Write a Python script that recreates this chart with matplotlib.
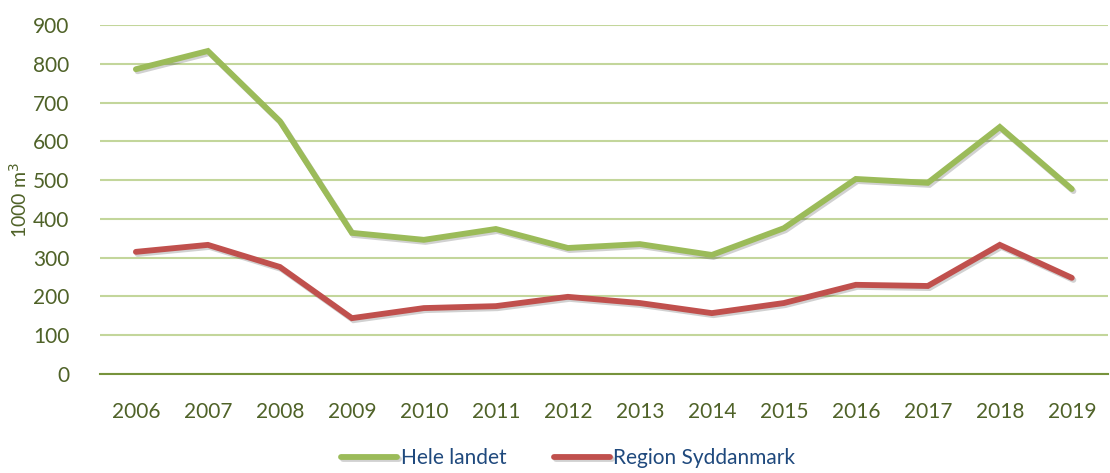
import matplotlib.pyplot as plt
import matplotlib.patheffects as pe

years = ['2006', '2007', '2008', '2009', '2010', '2011', '2012',
         '2013', '2014', '2015', '2016', '2017', '2018', '2019']
hele_landet = [786, 833, 652, 364, 346, 374, 325, 335, 307, 376, 503, 493, 637, 477]
syddanmark = [315, 333, 276, 144, 170, 175, 199, 183, 157, 183, 230, 227, 333, 248]

plt.rcParams['font.family'] = ['Lato', 'DejaVu Sans']
tick_col = '#4f6228'

fig = plt.figure(figsize=(11.1, 4.73), dpi=100)
ax = fig.add_axes([0.090, 0.2093, 0.908, 0.7378])

x = range(len(years))
shadow = [pe.SimpleLineShadow(offset=(1.2, -1.5), alpha=0.18, shadow_color='black'), pe.Normal()]
ax.plot(x, hele_landet, color='#9bbb59', lw=4.2, solid_joinstyle='miter',
        solid_capstyle='round', path_effects=shadow, label='Hele landet', zorder=3)
ax.plot(x, syddanmark, color='#c0504d', lw=4.2, solid_joinstyle='miter',
        solid_capstyle='round', path_effects=shadow, label='Region Syddanmark', zorder=3)

ax.set_xlim(-0.5, len(years) - 0.5)
ax.set_ylim(0, 900)
ax.set_yticks(range(0, 901, 100))
ax.set_xticks(list(x))
ax.set_xticklabels(years)
ax.grid(axis='y', color='#c3d69b', lw=1.5)
ax.set_axisbelow(True)
for s in ['top', 'right', 'left']:
    ax.spines[s].set_visible(False)
ax.spines['bottom'].set_color('#77933c')
ax.spines['bottom'].set_linewidth(1.5)
ax.tick_params(axis='both', length=0, labelsize=15, colors=tick_col)
ax.tick_params(axis='x', pad=20)
ax.tick_params(axis='y', pad=22)
ax.set_ylabel('1000 m$^3$', fontsize=14, color=tick_col, labelpad=2)

leg = fig.legend(loc='lower center', bbox_to_anchor=(0.512, -0.03), ncol=2, frameon=False,
                 fontsize=15, handlelength=2.7, handletextpad=0.15, columnspacing=2.3)
for t in leg.get_texts():
    t.set_color('#1f497d')

fig.savefig('out.png', dpi=100)
